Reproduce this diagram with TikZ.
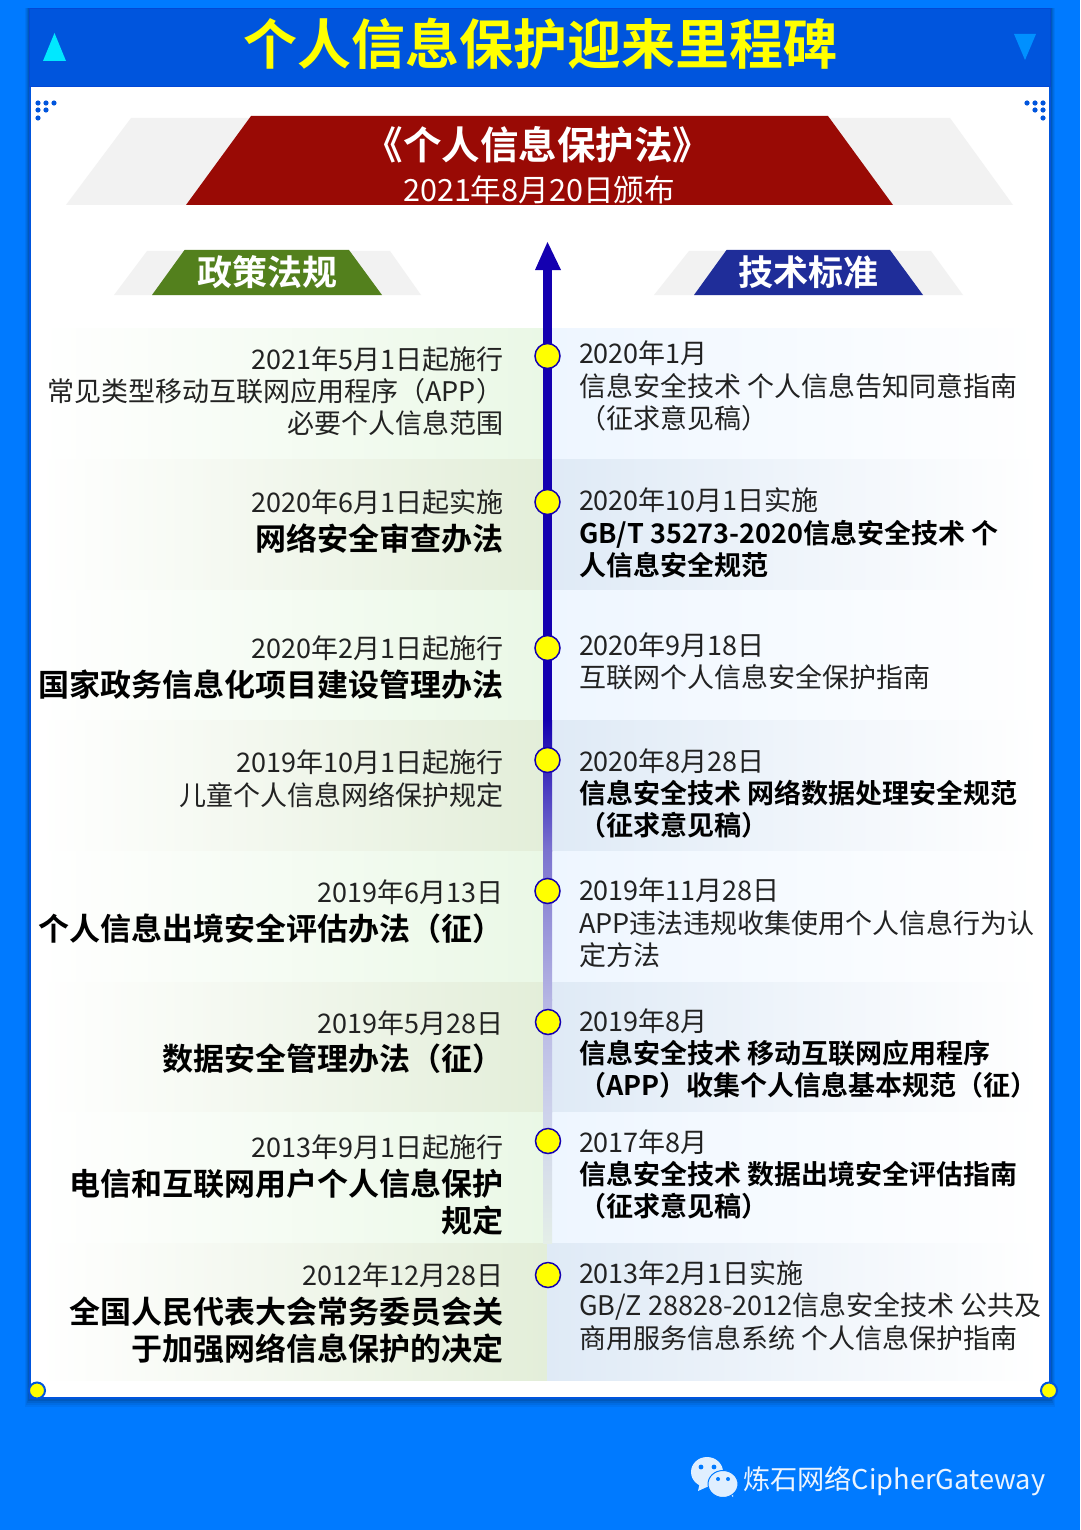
\documentclass[tikz,border=0pt]{standalone}
\usepackage{fontspec}
\setmainfont{Noto Sans CJK SC}[BoldFont={Noto Sans CJK SC Bold}]
\definecolor{pageblue}{HTML}{007AFF}
\definecolor{headblue}{HTML}{0055DD}
\definecolor{lineblue}{HTML}{1400B0}
\definecolor{ink}{HTML}{222222}
\definecolor{paleg}{HTML}{EAF8E6}
\definecolor{darkg}{HTML}{E3EED9}
\definecolor{paleb}{HTML}{EEF6FF}
\definecolor{darkb}{HTML}{DFEAF6}
\definecolor{sun}{HTML}{FFFF00}
\definecolor{upcyan}{HTML}{00E8FF}
\definecolor{downblue}{HTML}{0090FF}
\definecolor{lawred}{HTML}{990A05}
\definecolor{polgreen}{HTML}{53801D}
\definecolor{stdblue}{HTML}{1F2D99}
\definecolor{fadeA}{HTML}{7B73CF}
\definecolor{fadeB}{HTML}{B5B5E3}
\definecolor{fadeC}{HTML}{CDD2EB}
\definecolor{fadeD}{HTML}{E4EEE8}
\tikzset{
  x=1pt,y=-1pt,
  every node/.style={inner sep=0pt,outer sep=0pt,text=ink},
  lreg/.style={anchor=base east,yshift=-10.3pt,font=\fontsize{27}{27}\selectfont},
  lbold/.style={anchor=base east,yshift=-12.2pt,font=\fontsize{31}{31}\selectfont\bfseries,text=black},
  rreg/.style={anchor=base west,yshift=-10.3pt,font=\fontsize{27}{27}\selectfont},
  rbold/.style={anchor=base west,yshift=-10.3pt,font=\fontsize{27}{27}\selectfont\bfseries,text=black},
  ghost/.style={fill=black!5,draw=none},
  marker/.style={circle,draw=lineblue,line width=1.5pt,fill=sun,minimum size=25pt},
  corner/.style={circle,draw=headblue,line width=2pt,fill=sun,minimum size=16pt},
  dot/.style={fill=headblue},
  bubble/.style={fill=white!88!pageblue,draw=pageblue,line width=1pt},
}
\newcommand{\rowbands}[3]{%
  \shade[left color=white,right color=#3g] (40,#1) rectangle (544,#2);
  \shade[left color=#3b,right color=white] (552,#1) rectangle (1040,#2);
}
\begin{document}
\begin{tikzpicture}
\path[use as bounding box,fill=pageblue] (0,0) rectangle (1080,1530);
% panel
\foreach \g/\o in {8/.05,6/.06,4/.08,2/.1}{
  \fill[black,opacity=\o] (29-\g/2,8) rectangle (1051+\g/2,1399+\g);
}
\fill[white] (29,8) rectangle (1051,1398);
% bands
\rowbands{328}{459}{pale}
\rowbands{459}{590}{dark}
\rowbands{590}{720}{pale}
\rowbands{720}{851}{dark}
\rowbands{851}{982}{pale}
\rowbands{982}{1112}{dark}
\rowbands{1112}{1243}{pale}
\shade[left color=white,right color=darkg] (40,1243) rectangle (547,1380);
\shade[left color=darkb,right color=white] (547,1243) rectangle (1040,1380);
\draw[headblue,line width=2pt] (30,87) -- (30,1398) -- (1050,1398) -- (1050,87);
% header
\fill[headblue] (29,8) rectangle (1051,87);
\draw[headblue!85!lineblue,line width=1pt] (29.5,8.5) rectangle (1050.5,87);
\fill[upcyan] (54.5,33) -- (66,61) -- (43,61) -- cycle;
\fill[downblue] (1014,34) -- (1036,34) -- (1025,60) -- cycle;
\node[font=\fontsize{54}{54}\selectfont\bfseries,text=sun] (title) at (540,44) {个人信息保护迎来里程碑};
% dots
\foreach \p in {(38,103),(46,103),(54,103),(38,110),(46,110),(38,118),(1027,103),(1035,103),(1043,103),(1035,110),(1043,110),(1043,118)}{
  \fill[dot] \p circle (2.6);
}
% law banner
\fill[ghost] (131,118) -- (950,118) -- (1013,205) -- (66,205) -- cycle;
\fill[lawred] (251,116) -- (828,116) -- (893,205) -- (186,205) -- cycle;
\node[font=\fontsize{38.5}{38.5}\selectfont\bfseries,text=white] (law) at (538,145) {《个人信息保护法》};
\node[font=\fontsize{30.6}{30.6}\selectfont,text=white] (lawdate) at (539,190) {2021年8月20日颁布};
% column headings
\fill[ghost] (147,251) -- (390,251) -- (421,295) -- (114,295) -- cycle;
\fill[polgreen] (184.5,250) -- (349,250) -- (382,295) -- (152,295) -- cycle;
\node[font=\fontsize{35}{35}\selectfont\bfseries,text=white] (policy) at (267,272.5) {政策法规};
\fill[ghost] (689,251) -- (931,251) -- (963,295) -- (654,295) -- cycle;
\fill[stdblue] (726.5,250) -- (890,250) -- (923,295) -- (694,295) -- cycle;
\node[font=\fontsize{35}{35}\selectfont\bfseries,text=white] (tech) at (808,272.5) {技术标准};
% timeline
\fill[lineblue] (543,268) rectangle (552,721);
\fill[lineblue] (547.5,242) -- (561,270) -- (535,270) -- cycle;
\shade[top color=lineblue,bottom color=fadeA] (543,720) rectangle (552,851);
\shade[top color=fadeA,bottom color=fadeB] (543,850.5) rectangle (552,1000);
\shade[top color=fadeB,bottom color=fadeC] (543,999.5) rectangle (552,1112);
\shade[top color=fadeC,bottom color=fadeD] (543,1111.5) rectangle (552,1243);
\node[marker] (m1) at (547.5,356) {};
\node[marker] (m2) at (547.5,502) {};
\node[marker] (m3) at (547.5,648) {};
\node[marker] (m4) at (547.5,760) {};
\node[marker] (m5) at (547.5,891) {};
\node[marker] (m6) at (548,1022) {};
\node[marker] (m7) at (548,1141) {};
\node[marker] (m8) at (548,1275) {};
\node[corner] (c1) at (37,1390.5) {};
\node[corner] (c2) at (1049,1390.5) {};
% left texts
\node[lreg] (l1a) at (503,359) {2021年5月1日起施行};
\node[lreg] (l1b) at (503,391) {常见类型移动互联网应用程序（APP）};
\node[lreg] (l1c) at (503,423) {必要个人信息范围};
\node[lreg] (l2a) at (503,502) {2020年6月1日起实施};
\node[lbold] (l2b) at (503,538) {网络安全审查办法};
\node[lreg] (l3a) at (503,648) {2020年2月1日起施行};
\node[lbold] (l3b) at (503,684) {国家政务信息化项目建设管理办法};
\node[lreg] (l4a) at (503,762) {2019年10月1日起施行};
\node[lreg] (l4b) at (503,795) {儿童个人信息网络保护规定};
\node[lreg] (l5a) at (503,892) {2019年6月13日};
\node[lbold] (l5b) at (503,928) {个人信息出境安全评估办法（征）};
\node[lreg] (l6a) at (503,1023) {2019年5月28日};
\node[lbold] (l6b) at (503,1058) {数据安全管理办法（征）};
\node[lreg] (l7a) at (503,1147) {2013年9月1日起施行};
\node[lbold] (l7b) at (503,1183) {电信和互联网用户个人信息保护};
\node[lbold] (l7c) at (503,1220) {规定};
\node[lreg] (l8a) at (503,1275) {2012年12月28日};
\node[lbold] (l8b) at (503,1311) {全国人民代表大会常务委员会关};
\node[lbold] (l8c) at (503,1348) {于加强网络信息保护的决定};
% right texts
\node[rreg] (r1a) at (579,353) {2020年1月};
\node[rreg] (r1b) at (579,386) {信息安全技术 个人信息告知同意指南};
\node[rreg] (r1c) at (579,418) {（征求意见稿）};
\node[rreg] (r2a) at (579,500) {2020年10月1日实施};
\node[rbold] (r2b) at (579,533) {GB/T 35273-2020信息安全技术 个};
\node[rbold] (r2c) at (579,565) {人信息安全规范};
\node[rreg] (r3a) at (579,645) {2020年9月18日};
\node[rreg] (r3b) at (579,677) {互联网个人信息安全保护指南};
\node[rreg] (r4a) at (579,761) {2020年8月28日};
\node[rbold] (r4b) at (579,793) {信息安全技术 网络数据处理安全规范};
\node[rbold] (r4c) at (579,825) {（征求意见稿）};
\node[rreg] (r5a) at (579,890) {2019年11月28日};
\node[rreg] (r5b) at (579,923) {APP违法违规收集使用个人信息行为认};
\node[rreg] (r5c) at (579,955) {定方法};
\node[rreg] (r6a) at (579,1021) {2019年8月};
\node[rbold] (r6b) at (579,1053) {信息安全技术 移动互联网应用程序};
\node[rbold] (r6c) at (579,1085) {（APP）收集个人信息基本规范（征）};
\node[rreg] (r7a) at (579,1142) {2017年8月};
\node[rbold] (r7b) at (579,1174) {信息安全技术 数据出境安全评估指南};
\node[rbold] (r7c) at (579,1206) {（征求意见稿）};
\node[rreg] (r8a) at (579,1273) {2013年2月1日实施};
\node[rreg] (r8b) at (579,1305) {GB/Z 28828-2012信息安全技术 公共及};
\node[rreg] (r8c) at (579,1338) {商用服务信息系统 个人信息保护指南};
% footer
\fill[white!88!pageblue] (700,1482) -- (698,1491) -- (709,1486) -- cycle;
\fill[white!88!pageblue] (707,1472) ellipse (16 and 15);
\fill[pageblue] (701,1467) circle (2.4);
\fill[pageblue] (714,1467) circle (2.4);
\fill[white!88!pageblue] (729,1493) -- (733,1497) -- (733,1490) -- cycle;
\path[bubble] (723,1484) ellipse (15 and 13.5);
\fill[pageblue] (718,1479) circle (2);
\fill[pageblue] (728,1479) circle (2);
\node[font=\fontsize{27.2}{27.2}\selectfont,text=white!92!pageblue,anchor=west] (brand) at (743,1481) {炼石网络CipherGateway};
\end{tikzpicture}
\end{document}
